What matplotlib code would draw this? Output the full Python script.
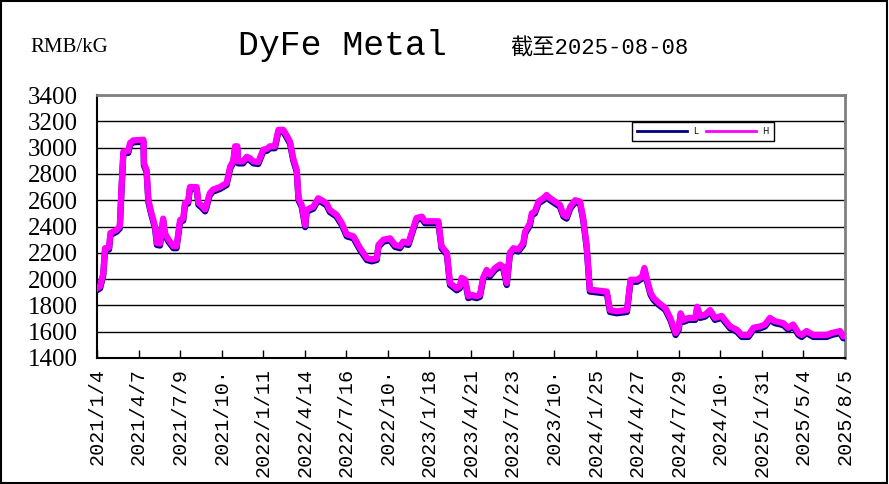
#generate PNG chart of DyFe metal price

import pandas as pd
import matplotlib as mpl
import matplotlib.pyplot as plt
import matplotlib.dates as mdates
from matplotlib.patches import Rectangle

mpl.rcParams['font.size'] = 10

dates = ["2021-01-04", "2021-01-11", "2021-01-18", "2021-01-22", "2021-01-31",
         "2021-02-03", "2021-02-17", "2021-02-24", "2021-02-28", "2021-03-04",
         "2021-03-15", "2021-03-19", "2021-03-26", "2021-04-18", "2021-04-19",
         "2021-04-25", "2021-04-29", "2021-05-06", "2021-05-14", "2021-05-18",
         "2021-05-25", "2021-06-01", "2021-06-05", "2021-06-13", "2021-06-24",
         "2021-07-01", "2021-07-09", "2021-07-16", "2021-07-20", "2021-07-27",
         "2021-07-31", "2021-08-15", "2021-08-19", "2021-08-26", "2021-09-03",
         "2021-09-06", "2021-09-13", "2021-09-20", "2021-10-06", "2021-10-21",
         "2021-10-29", "2021-11-05", "2021-11-09", "2021-11-14", "2021-11-16",
         "2021-11-27", "2021-12-05", "2021-12-12", "2021-12-20", "2021-12-31",
         "2022-01-11", "2022-01-19", "2022-01-26", "2022-02-06", "2022-02-14",
         "2022-02-25", "2022-03-04", "2022-03-12", "2022-03-19", "2022-03-27",
         "2022-03-31", "2022-04-07", "2022-04-15", "2022-04-18", "2022-04-26",
         "2022-05-03", "2022-05-14", "2022-05-22", "2022-06-02", "2022-06-09",
         "2022-06-24", "2022-07-06", "2022-07-17", "2022-08-01", "2022-08-16",
         "2022-08-31", "2022-09-11", "2022-09-22", "2022-09-26", "2022-10-07",
         "2022-10-22", "2022-11-02", "2022-11-13", "2022-11-20", "2022-12-02",
         "2022-12-09", "2022-12-20", "2023-01-01", "2023-01-08", "2023-02-07",
         "2023-02-14", "2023-02-26", "2023-03-05", "2023-03-20", "2023-03-27",
         "2023-03-31", "2023-04-08", "2023-04-15", "2023-04-22", "2023-05-04",
         "2023-05-11", "2023-05-18", "2023-05-26", "2023-06-02", "2023-06-14",
         "2023-06-25", "2023-07-02", "2023-07-10", "2023-07-17", "2023-07-25",
         "2023-08-05", "2023-08-16", "2023-08-20", "2023-08-31", "2023-09-04",
         "2023-09-11", "2023-09-19", "2023-09-30", "2023-10-07", "2023-10-15",
         "2023-10-26", "2023-11-06", "2023-11-14", "2023-11-21", "2023-11-29",
         "2023-12-10", "2023-12-21", "2023-12-28", "2024-01-05", "2024-01-12",
         "2024-02-19", "2024-02-26", "2024-03-12", "2024-04-04", "2024-04-12",
         "2024-04-27", "2024-05-08", "2024-05-13", "2024-05-19", "2024-05-27",
         "2024-06-03", "2024-06-14", "2024-06-29", "2024-07-10", "2024-07-22",
         "2024-07-29", "2024-08-02", "2024-08-09", "2024-08-20", "2024-09-04",
         "2024-09-08", "2024-09-15", "2024-09-26", "2024-10-07", "2024-10-18",
         "2024-11-02", "2024-11-09", "2024-11-21", "2024-12-06", "2024-12-17",
         "2025-01-01", "2025-01-12", "2025-01-27", "2025-02-07", "2025-02-18",
         "2025-03-01", "2025-03-20", "2025-03-31", "2025-04-11", "2025-04-23",
         "2025-04-30", "2025-05-11", "2025-05-26", "2025-06-25", "2025-07-06",
         "2025-07-25", "2025-08-01", "2025-08-05"]

# high price (magenta)
price_h = [1930, 1945, 2045, 2235, 2240, 2350, 2375, 2400, 2700, 2970,
           2975, 3035, 3055, 3060, 2880, 2830, 2600, 2500, 2400, 2275,
           2270, 2460, 2350, 2300, 2250, 2250, 2450, 2460, 2580, 2590,
           2700, 2700, 2580, 2560, 2530, 2560, 2650, 2680, 2700, 2730,
           2855, 2900, 3010, 3010, 2895, 2895, 2930, 2920, 2895, 2890,
           2985, 2990, 3010, 3010, 3135, 3135, 3095, 3045, 2920, 2830,
           2615, 2565, 2410, 2525, 2540, 2550, 2615, 2600, 2575, 2525,
           2490, 2425, 2340, 2325, 2235, 2160, 2150, 2160, 2260, 2300,
           2310, 2260, 2250, 2285, 2275, 2350, 2465, 2475, 2440, 2440,
           2250, 2200, 1970, 1930, 1945, 2010, 1995, 1870, 1880, 1870,
           1880, 2010, 2070, 2035, 2085, 2110, 2095, 1970, 2200, 2235,
           2225, 2275, 2360, 2425, 2500, 2515, 2590, 2615, 2640, 2615,
           2590, 2565, 2490, 2475, 2550, 2600, 2590, 2465, 2250, 1920,
           1905, 1765, 1755, 1765, 1995, 1995, 2020, 2085, 1995, 1895,
           1855, 1820, 1780, 1705, 1590, 1630, 1740, 1690, 1705, 1705,
           1790, 1720, 1730, 1765, 1705, 1720, 1690, 1640, 1615, 1575,
           1575, 1630, 1640, 1655, 1705, 1680, 1665, 1630, 1655, 1590,
           1575, 1605, 1575, 1575, 1590, 1605, 1565, 1565]

# low price (navy)
price_l = [1915, 1930, 2030, 2220, 2225, 2335, 2360, 2385, 2685, 2955,
           2960, 3020, 3040, 3045, 2865, 2815, 2585, 2485, 2385, 2260,
           2255, 2445, 2335, 2285, 2235, 2235, 2435, 2445, 2565, 2575,
           2685, 2685, 2565, 2545, 2515, 2545, 2635, 2665, 2685, 2715,
           2840, 2885, 2995, 2995, 2880, 2880, 2915, 2905, 2880, 2875,
           2970, 2975, 2995, 2995, 3120, 3120, 3080, 3030, 2905, 2815,
           2600, 2550, 2395, 2510, 2525, 2535, 2600, 2585, 2560, 2510,
           2475, 2410, 2325, 2310, 2220, 2145, 2135, 2145, 2245, 2285,
           2295, 2245, 2235, 2270, 2260, 2335, 2450, 2460, 2425, 2425,
           2235, 2185, 1955, 1915, 1930, 1995, 1980, 1855, 1865, 1855,
           1865, 1995, 2055, 2020, 2070, 2095, 2080, 1955, 2185, 2220,
           2210, 2260, 2345, 2410, 2485, 2500, 2575, 2600, 2625, 2600,
           2575, 2550, 2475, 2460, 2535, 2585, 2575, 2450, 2235, 1905,
           1890, 1750, 1740, 1750, 1980, 1980, 2005, 2070, 1980, 1880,
           1840, 1805, 1765, 1690, 1575, 1615, 1725, 1675, 1690, 1690,
           1775, 1705, 1715, 1750, 1690, 1705, 1675, 1625, 1600, 1560,
           1560, 1615, 1625, 1640, 1690, 1665, 1650, 1615, 1640, 1575,
           1560, 1590, 1560, 1560, 1575, 1590, 1550, 1550]

tick_dates = ["2021-01-04", "2021-04-07", "2021-07-09", "2021-10-10",
              "2022-01-11", "2022-04-14", "2022-07-16", "2022-10-17",
              "2023-01-18", "2023-04-21", "2023-07-23", "2023-10-24",
              "2024-01-25", "2024-04-27", "2024-07-29", "2024-10-30",
              "2025-01-31", "2025-05-04", "2025-08-05"]
tick_labels = ["2021/1/4", "2021/4/7", "2021/7/9", "2021/10\u00b7",
               "2022/1/11", "2022/4/14", "2022/7/16", "2022/10\u00b7",
               "2023/1/18", "2023/4/21", "2023/7/23", "2023/10\u00b7",
               "2024/1/25", "2024/4/27", "2024/7/29", "2024/10\u00b7",
               "2025/1/31", "2025/5/4", "2025/8/5"]
y_ticks = [1400, 1600, 1800, 2000, 2200, 2400, 2600, 2800, 3000, 3200, 3400]

df = pd.DataFrame({"L": price_l, "H": price_h}, index=pd.to_datetime(dates))
ticks = pd.to_datetime(tick_dates)

W, H = 889, 484
fig = plt.figure(figsize=(W / 100, H / 100), dpi=100)
ax = fig.add_axes([97 / W, 1 - 358 / H, (845 - 97) / W, (358 - 95) / H])

ax.plot(df.index, df["L"], color="#000080", lw=4.5, solid_joinstyle="round",
        label="L", zorder=3)
ax.plot(df.index, df["H"], color="#FF00FF", lw=4.5, solid_joinstyle="round",
        label="H", zorder=4)

ax.set_xlim(ticks[0], ticks[-1])
ax.set_ylim(1400, 3400)
ax.set_yticks(y_ticks)
ax.set_axisbelow(True)
ax.yaxis.grid(True, color="black", lw=1)

ax.set_xticks(ticks)
ax.set_xticklabels(tick_labels, rotation=90, family="Liberation Mono",
                   fontsize=14.5, va="top", ha="center")
ax.tick_params(axis="x", direction="in", length=6, width=1, pad=7)
ax.tick_params(axis="y", length=0, pad=14, labelsize=18)
for t in ax.get_yticklabels():
    t.set_family("Liberation Serif")

for s in ["left", "bottom"]:
    ax.spines[s].set_color("black")
    ax.spines[s].set_linewidth(1.5)
for s in ["top", "right"]:
    ax.spines[s].set_color("#808080")
    ax.spines[s].set_linewidth(2)

leg = ax.legend(loc="center", bbox_to_anchor=(0.71, 0.829, 0.20, 0.065),
                mode="expand", ncol=2, fontsize=6, handlelength=6,
                fancybox=False, framealpha=1, edgecolor="black",
                borderpad=0.55, columnspacing=2.5)
leg.get_frame().set_linewidth(1)
for ln in leg.get_lines():
    ln.set_linewidth(2)

fig.text(30 / W, 1 - 47 / H, "RMB/kG", family="Liberation Serif",
         fontsize=15, va="center", ha="left")
fig.text(342 / W, 1 - 45 / H, "DyFe Metal", family="Liberation Mono",
         fontsize=25, va="center", ha="center")
fig.text(510 / W, 1 - 49 / H, "截至2025-08-08",
         family=["Liberation Mono", "Noto Sans CJK SC"],
         fontsize=16, va="center", ha="left")

# outer border
fig.patches.append(Rectangle((0.001, 0.002), 0.997, 0.995, fill=False,
                             edgecolor="black", lw=1.5,
                             transform=fig.transFigure, figure=fig))

plt.savefig("out.png", dpi=100)
